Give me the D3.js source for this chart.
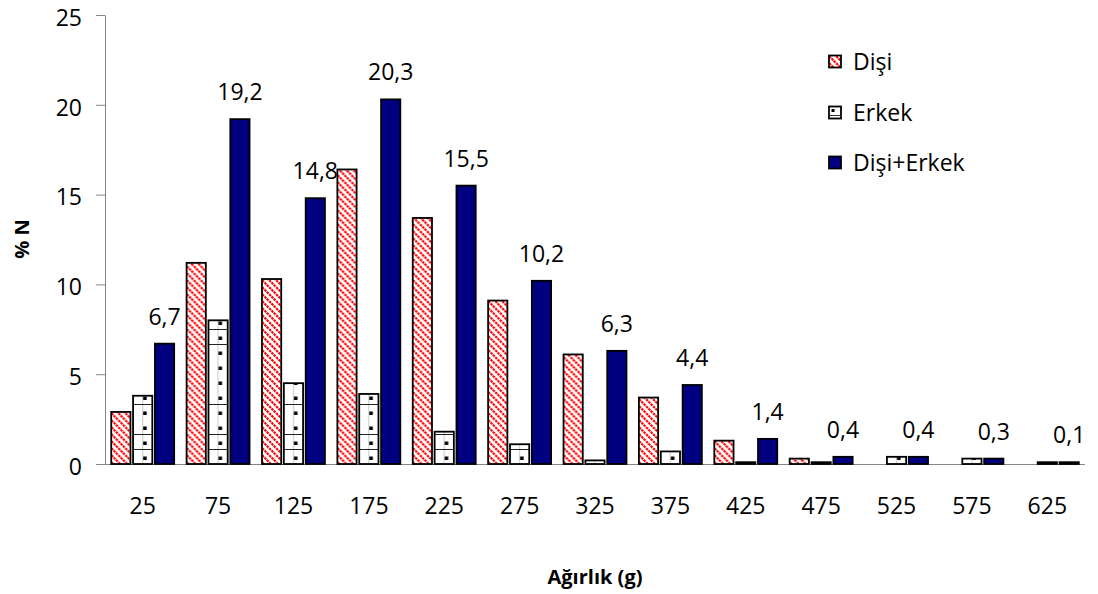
<!DOCTYPE html>
<html>
<head>
<meta charset="utf-8">
<script src="https://cdn.jsdelivr.net/npm/d3@7"></script>
<style>
  body { margin: 0; background: #fff; }
  svg text { font-family: "Open Sans", sans-serif; fill: #000; }
</style>
</head>
<body>
<div id="grafico"></div>
<script>
// datos
const categorias = ["25", "75", "125", "175", "225", "275", "325", "375", "425", "475", "525", "575", "625"];
const series = ["Dişi", "Erkek", "Dişi+Erkek"];
const valoresDisi = [2.9, 11.2, 10.3, 16.4, 13.7, 9.1, 6.1, 3.7, 1.3, 0.3, 0, 0, 0];
const valoresErkek = [3.8, 8.0, 4.5, 3.9, 1.8, 1.1, 0.2, 0.7, 0.1, 0.1, 0.4, 0.3, 0.1];
const valoresTotal = [6.7, 19.2, 14.8, 20.3, 15.5, 10.2, 6.3, 4.4, 1.4, 0.4, 0.4, 0.3, 0.1];
const ticksY = [0, 5, 10, 15, 20, 25];

const width = 1098, height = 594;
const margin = { top: 15, right: 13, bottom: 130, left: 105 };

const svg = d3.select("#grafico").append("svg")
  .attr("width", width)
  .attr("height", height);

const x0 = d3.scaleBand()
  .domain(categorias)
  .range([margin.left, width - margin.right])
  .paddingInner(0.165)
  .paddingOuter(0.0825);

const x1 = d3.scaleBand()
  .domain(series)
  .range([0, x0.bandwidth()])
  .paddingInner(0.12);

const y = d3.scaleLinear()
  .domain([0, 25])
  .range([height - margin.bottom, margin.top]);

// patrones de relleno
const defs = svg.append("defs");

const pDisi = defs.append("pattern")
  .attr("id", "rayado")
  .attr("patternUnits", "userSpaceOnUse")
  .attr("width", 7)
  .attr("height", 7);
pDisi.append("rect").attr("width", 7).attr("height", 7).attr("fill", "#fff");
pDisi.append("path")
  .attr("d", "M-2,-2L9,9M-2,5L2,9M5,-2L9,2")
  .attr("stroke", "#ff0000")
  .attr("stroke-width", 2.2)
  .attr("stroke-dasharray", "2.4,0.8");

// cada grupo tiene su propio translate, asi que el patron se alinea con x1("Erkek")
const bw = x1.bandwidth();
const pErkek = defs.append("pattern")
  .attr("id", "cuadros")
  .attr("patternUnits", "userSpaceOnUse")
  .attr("x", x1("Erkek"))
  .attr("y", y(0))
  .attr("width", x0.step())
  .attr("height", 15);
pErkek.append("rect").attr("width", x0.step()).attr("height", 15).attr("fill", "#fff");
pErkek.append("line")
  .attr("x1", bw / 2).attr("x2", bw / 2)
  .attr("y1", 0).attr("y2", 15)
  .attr("stroke", "#c8c8c8").attr("stroke-width", 1);
pErkek.append("line")
  .attr("x1", 0).attr("x2", x0.step())
  .attr("y1", 0.5).attr("y2", 0.5)
  .attr("stroke", "#222").attr("stroke-width", 1.2);
pErkek.append("rect")
  .attr("x", bw / 2 + 0.5).attr("y", 7.5)
  .attr("width", 3.5).attr("height", 3.5)
  .attr("fill", "#000");

const rellenos = { "Dişi": "url(#rayado)", "Erkek": "url(#cuadros)", "Dişi+Erkek": "#000080" };

// ejes
const yAxis = d3.axisLeft(y)
  .tickValues(ticksY)
  .tickSize(9)
  .tickSizeOuter(0)
  .tickPadding(14);

const gy = svg.append("g")
  .attr("transform", `translate(${margin.left},0)`)
  .call(yAxis);
gy.selectAll("path, line").attr("stroke", "#868686");
gy.selectAll("text").attr("font-size", 23).attr("dy", "0.45em");

const xAxis = d3.axisBottom(x0).tickSize(0).tickSizeOuter(0).tickPadding(34);
const gx = svg.append("g")
  .attr("transform", `translate(0,${y(0)})`)
  .call(xAxis);
gx.select(".domain").attr("stroke", "#868686").attr("d", `M${margin.left - 9},0.5H${width - margin.right}`);
gx.selectAll("text").attr("font-size", 23);

// barras
const filas = categorias.map((c, i) => ({
  cat: c,
  valores: [
    { serie: "Dişi", v: valoresDisi[i] },
    { serie: "Erkek", v: valoresErkek[i] },
    { serie: "Dişi+Erkek", v: valoresTotal[i] }
  ]
}));

const grupos = svg.append("g").selectAll("g")
  .data(filas)
  .enter()
  .append("g")
  .attr("transform", d => `translate(${x0(d.cat)},0)`);

grupos.selectAll("rect")
  .data(d => d.valores.filter(v => v.v > 0))
  .enter()
  .append("rect")
  .attr("x", d => x1(d.serie))
  .attr("y", d => y(d.v))
  .attr("width", bw)
  .attr("height", d => y(0) - y(d.v))
  .attr("fill", d => rellenos[d.serie])
  .attr("stroke", "#000")
  .attr("stroke-width", 1.8);

// etiquetas de Dişi+Erkek
grupos.append("text")
  .attr("x", x1("Dişi+Erkek") + bw / 2)
  .attr("y", (d, i) => y(valoresTotal[i]) - 19)
  .attr("text-anchor", "middle")
  .attr("font-size", 23)
  .text((d, i) => String(valoresTotal[i]).replace(".", ","));

// leyenda
const leyenda = svg.append("g").attr("transform", "translate(829,0)");
const filasLeyenda = [62, 113, 163];
series.forEach((s, i) => {
  const yy = filasLeyenda[i];
  leyenda.append("rect")
    .attr("x", 0).attr("y", yy - 6.5)
    .attr("width", 12).attr("height", 12)
    .attr("fill", s === "Erkek" ? "#fff" : rellenos[s])
    .attr("stroke", "#000")
    .attr("stroke-width", 1.8);
  if (s === "Erkek") {
    leyenda.append("rect")
      .attr("x", 2.5).attr("y", yy - 4).attr("width", 3).attr("height", 3).attr("fill", "#000");
    leyenda.append("line")
      .attr("x1", 0).attr("x2", 12).attr("y1", yy + 2.5).attr("y2", yy + 2.5)
      .attr("stroke", "#333").attr("stroke-width", 1);
  }
  leyenda.append("text")
    .attr("x", 24).attr("y", yy)
    .attr("dy", "0.35em")
    .attr("font-size", 23)
    .text(s);
});

// titulos de ejes
svg.append("text")
  .attr("x", (margin.left + width - margin.right) / 2)
  .attr("y", 577)
  .attr("dy", "0.35em")
  .attr("text-anchor", "middle")
  .attr("font-size", 20)
  .attr("font-weight", "bold")
  .text("Ağırlık (g)");

svg.append("text")
  .attr("transform", "translate(22,239) rotate(-90)")
  .attr("dy", "0.35em")
  .attr("text-anchor", "middle")
  .attr("font-size", 20)
  .attr("font-weight", "bold")
  .text("% N");
</script>
</body>
</html>
